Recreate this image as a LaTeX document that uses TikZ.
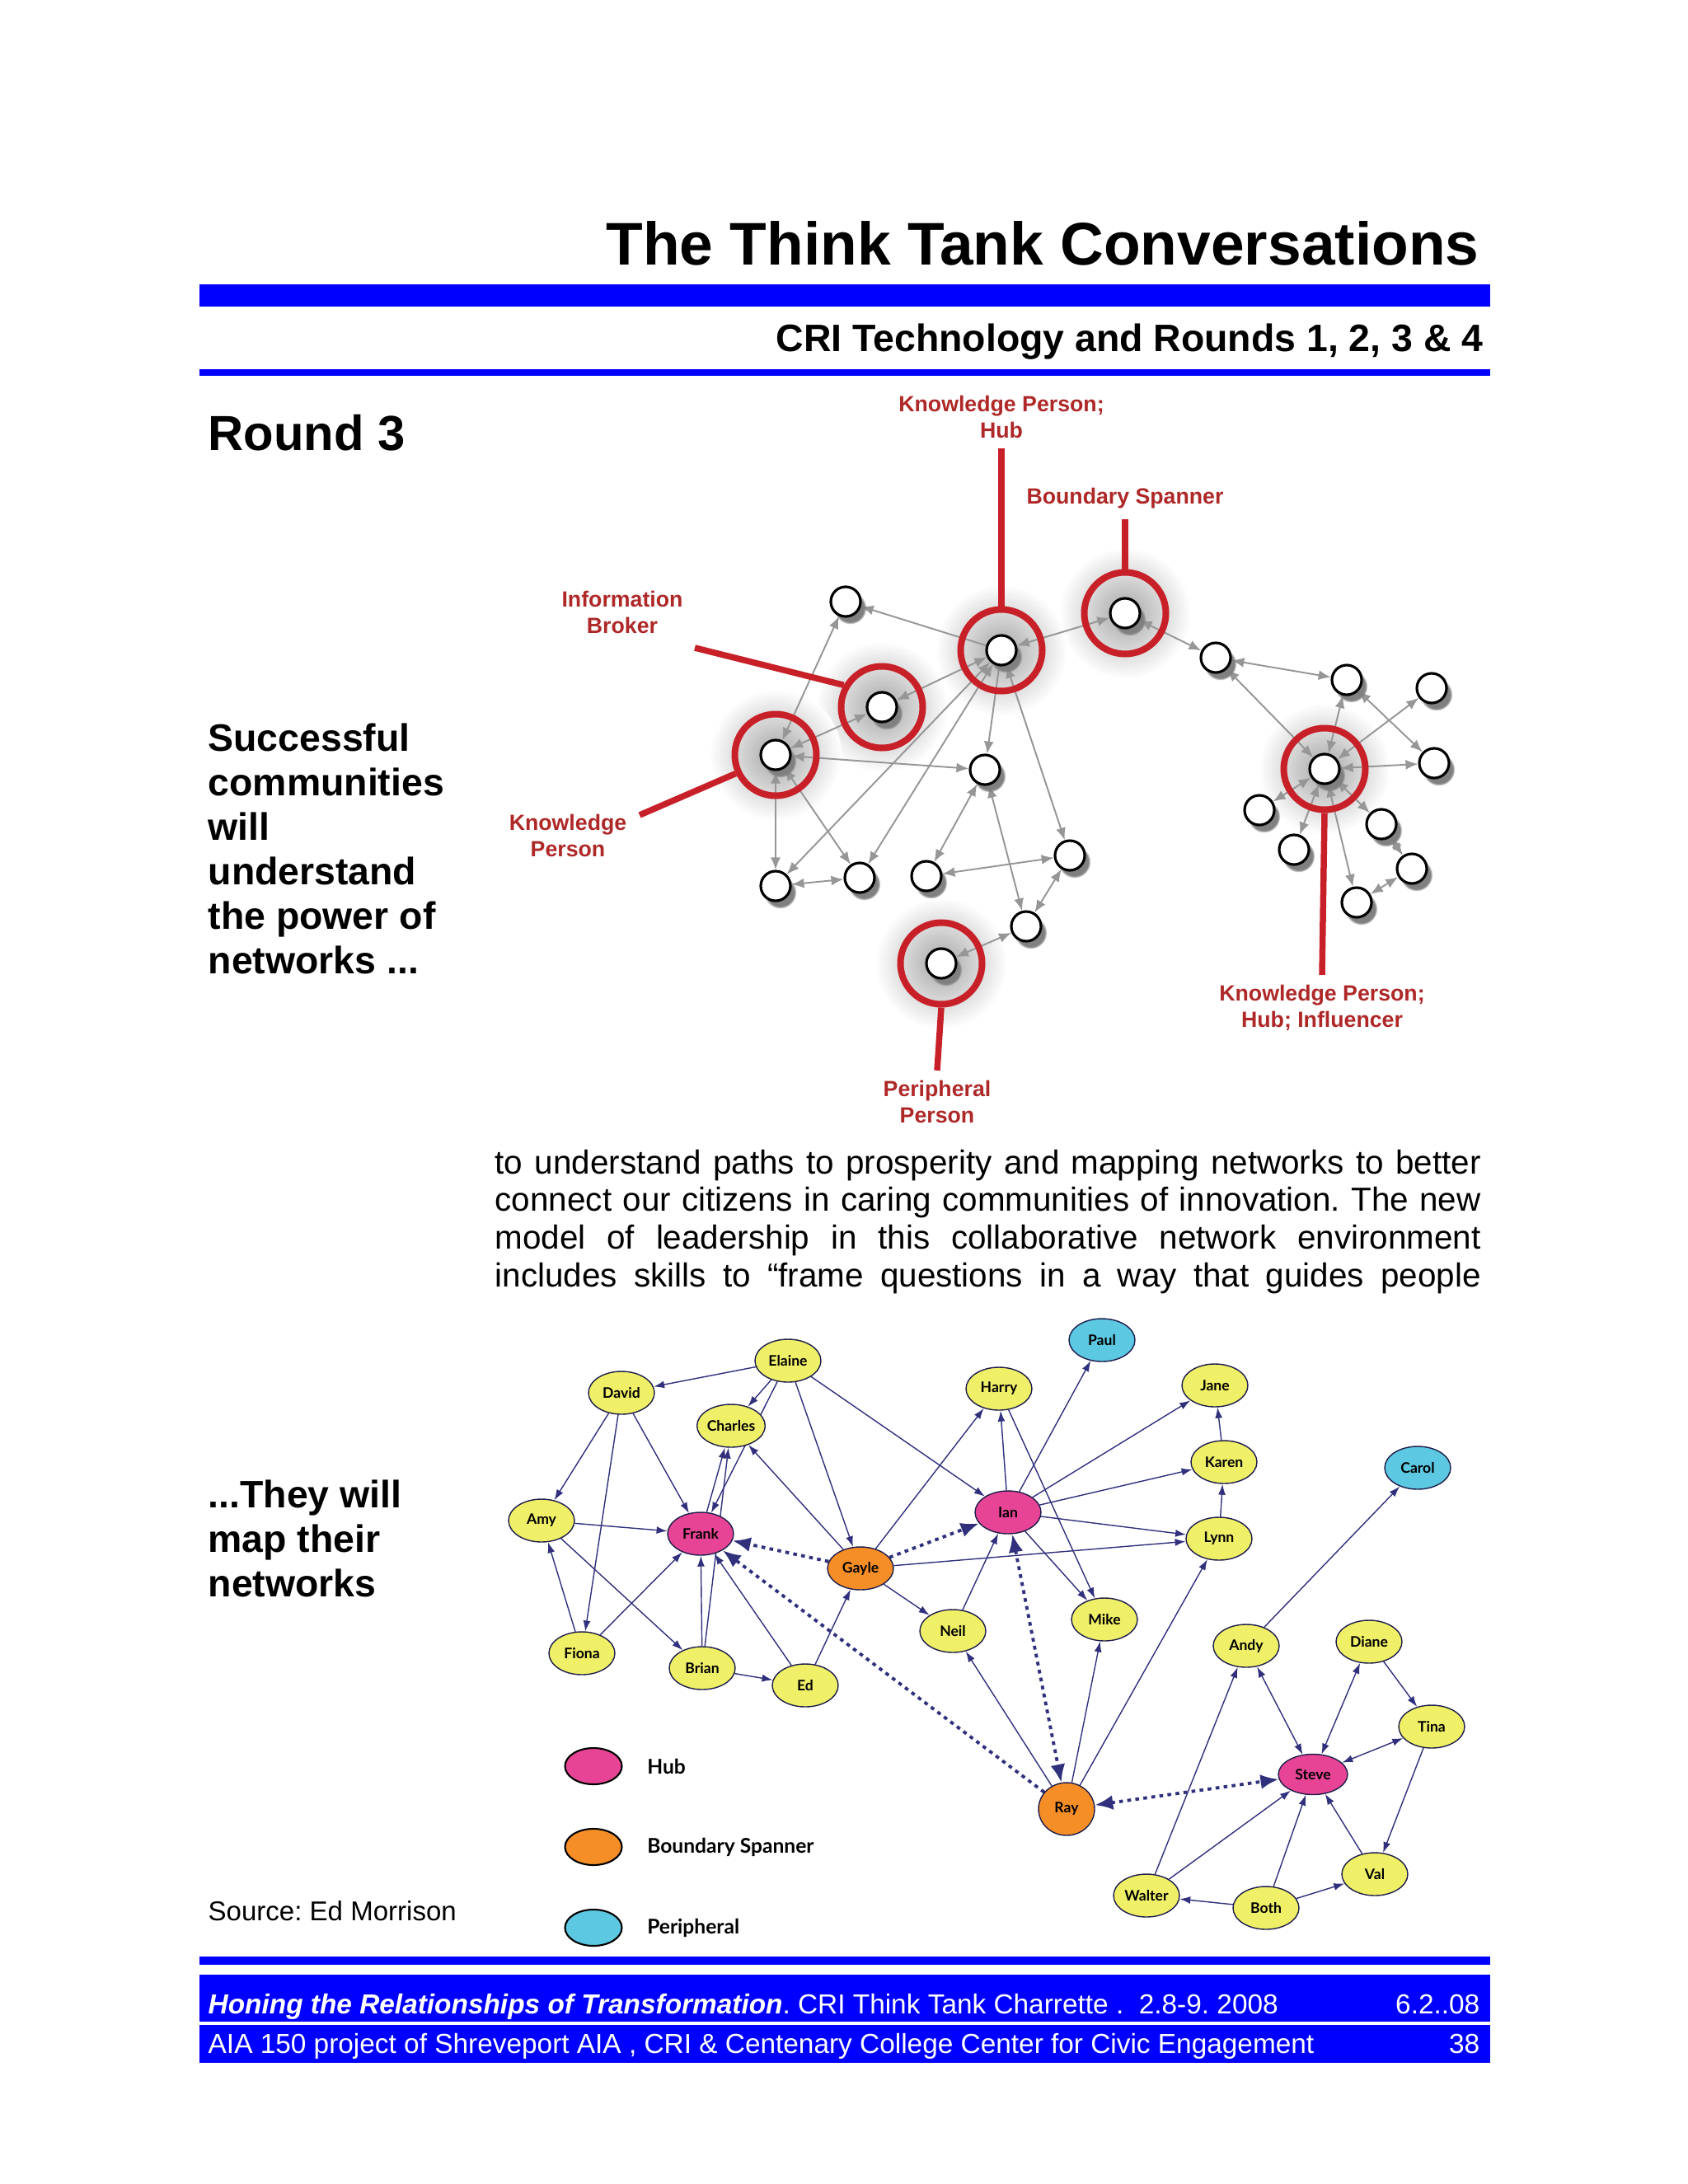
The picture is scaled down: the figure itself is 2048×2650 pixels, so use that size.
\documentclass[tikz,border=0pt]{standalone}
\usepackage{fontspec}
\setmainfont{Liberation Sans}
\newfontfamily\namefont{Lato}
\usetikzlibrary{arrows.meta,shapes.geometric,shadows,positioning}
\frenchspacing

\definecolor{barblue}{RGB}{0,0,255}
\definecolor{ringred}{RGB}{200,32,40}
\definecolor{labelred}{RGB}{175,40,40}
\definecolor{linkgray}{RGB}{150,150,150}
\definecolor{tieblue}{RGB}{48,48,125}
\definecolor{hubpink}{RGB}{232,68,150}
\definecolor{spanorange}{RGB}{246,142,40}
\definecolor{periblue}{RGB}{92,200,226}
\definecolor{memberyellow}{RGB}{240,240,104}

\pgfdeclarelayer{back}
\pgfdeclarelayer{links}
\pgfsetlayers{back,links,main}

\tikzset{
  pnode/.style={circle, draw=black, line width=0.9pt, fill=white, minimum size=3.6mm,
    inner sep=0pt, circular drop shadow={shadow xshift=0.5mm, shadow yshift=-0.7mm}},
  ring/.style={circle, draw=ringred, line width=0.8mm, minimum size=9.9mm, inner sep=0pt},
  pointer/.style={draw=ringred, line width=0.75mm},
  rolelabel/.style={text=labelred, font=\bfseries\fontsize{7.6}{9.1}\selectfont, align=center},
  link/.style={draw=linkgray, line width=0.55pt, >={Latex[length=1.5mm,width=1.2mm]}},
  member/.style={ellipse, draw=tieblue!60!black, line width=0.4pt, fill=memberyellow,
    minimum width=8mm, minimum height=5.2mm, inner sep=0pt,
    font=\namefont\bfseries\fontsize{5}{6}\selectfont},
  hubnode/.style={member, fill=hubpink},
  spannode/.style={member, fill=spanorange},
  perinode/.style={member, fill=periblue},
  keynode/.style={member, draw=black, line width=0.6pt, minimum width=6.9mm, minimum height=4.4mm},
  keytext/.style={inner sep=0pt, right=2.9mm of #1, font=\namefont\bfseries\fontsize{7}{8}\selectfont},
  tie/.style={draw=tieblue, line width=0.4pt, ->, >={Latex[length=1.3mm,width=0.9mm]}},
  strongtie/.style={draw=tieblue, line width=1.1pt, dash pattern=on 1.3pt off 1.5pt,
    >={Latex[length=2.2mm,width=1.8mm]}},
}

\begin{document}
\begin{tikzpicture}[x=0.1mm, y=-0.1mm]
    \useasboundingbox (0,0) rectangle (2048,2650);

    % page head
    \node[anchor=base east, inner sep=0pt, font=\bfseries\fontsize{20.8}{25}\selectfont] (title) at (1795,321) {The Think Tank Conversations};
    \fill[barblue] (242,345) rectangle (1808,372);
    \node[anchor=base east, inner sep=0pt, font=\bfseries\fontsize{13.2}{16}\selectfont] (subtitle) at (1800,426) {CRI Technology and Rounds 1, 2, 3 \& 4};
    \fill[barblue] (242,448) rectangle (1808,456);
    \node[anchor=base west, inner sep=0pt, font=\bfseries\fontsize{17}{20}\selectfont] (round) at (252,546) {Round 3};

    % side notes
    \node[anchor=north west, inner sep=0pt, align=left, font=\bfseries\fontsize{13.2}{15.4}\selectfont] (claim) at (252,877)
        {Successful\\communities\\will\\understand\\the power of\\networks ...};
    \node[anchor=north west, inner sep=0pt, align=left, font=\bfseries\fontsize{13.2}{15.4}\selectfont] (mapnote) at (252,1795)
        {...They will\\map their\\networks};
    \node[anchor=base west, inner sep=0pt, font=\fontsize{9.4}{11}\selectfont] (source) at (252,2330) {Source: Ed Morrison};

    % upper network: people
    \node[ring] (rhub) at (1215,789) {};
    \node[ring] (rspan) at (1365,744) {};
    \node[ring] (rbroker) at (1070,858) {};
    \node[ring] (rknow) at (941,916) {};
    \node[ring] (rperi) at (1142,1169) {};
    \node[ring] (rinfl) at (1607,933) {};

    \node[pnode] (ntop) at (1026,730) {};
    \node[pnode] (nhub) at (1215,789) {};
    \node[pnode] (nspan) at (1365,744) {};
    \node[pnode] (nbroker) at (1070,858) {};
    \node[pnode] (nknow) at (941,916) {};
    \node[pnode] (nmid) at (1195,934) {};
    \node[pnode] (nla) at (941,1075) {};
    \node[pnode] (nlb) at (1043,1065) {};
    \node[pnode] (nlc) at (1124,1063) {};
    \node[pnode] (nld) at (1298,1038) {};
    \node[pnode] (nle) at (1245,1124) {};
    \node[pnode] (nperi) at (1142,1169) {};
    \node[pnode] (nr1) at (1475,798) {};
    \node[pnode] (nr2) at (1634,825) {};
    \node[pnode] (nr3) at (1737,835) {};
    \node[pnode] (ninfl) at (1607,933) {};
    \node[pnode] (nr4) at (1740,926) {};
    \node[pnode] (nr5) at (1528,983) {};
    \node[pnode] (nr6) at (1570,1031) {};
    \node[pnode] (nr7) at (1676,1000) {};
    \node[pnode] (nr8) at (1713,1054) {};
    \node[pnode] (nr9) at (1646,1095) {};

    % roles
    \node[rolelabel] (hublabel) at (1215,506) {Knowledge Person;\\Hub};
    \draw[pointer] (hublabel.south) -- (rhub);
    \node[rolelabel] (spanlabel) at (1365,605) {Boundary Spanner};
    \draw[pointer] (spanlabel.south) -- (rspan);
    \node[rolelabel] (brokerlabel) at (755,743) {Information\\Broker};
    \coordinate (brokertip) at (843,786);
    \draw[pointer] (brokertip) -- (rbroker.150);
    \node[rolelabel] (knowlabel) at (689,1014) {Knowledge\\Person};
    \coordinate (knowtip) at (776,989);
    \draw[pointer] (knowtip) -- (rknow.205);
    \node[rolelabel] (perilabel) at (1137,1337) {Peripheral\\Person};
    \draw[pointer] (perilabel.north) -- (rperi.south);
    \node[rolelabel] (infllabel) at (1604,1223) {Knowledge Person;\\Hub; Influencer};
    \draw[pointer] (infllabel.north) -- (rinfl.south);

    \begin{pgfonlayer}{back}
        \shade[inner color=black!35, outer color=white] (nhub) circle (8mm);
        \shade[inner color=black!35, outer color=white] (nspan) circle (8mm);
        \shade[inner color=black!35, outer color=white] (nbroker) circle (8mm);
        \shade[inner color=black!35, outer color=white] (nknow) circle (8mm);
        \shade[inner color=black!35, outer color=white] (nperi) circle (8mm);
        \shade[inner color=black!35, outer color=white] (ninfl) circle (8mm);
    \end{pgfonlayer}

    \begin{pgfonlayer}{links}
        % left cluster
        \draw[link,->] (nhub) -- (ntop);
        \draw[link,<->] (ntop) -- (nknow);
        \draw[link,<->] (nspan) -- (nhub);
        \draw[link,<->] (nhub) -- (nbroker);
        \draw[link,<->] (nknow) -- (nbroker);
        \draw[link,<->] (nknow) -- (nmid);
        \draw[link,->] (nhub) -- (nmid);
        \draw[link,<->] (nhub) -- (nld);
        \draw[link,<->] (nhub) -- (nla);
        \draw[link,<->] (nhub) -- (nlb);
        \draw[link,<->] (nmid) -- (nlc);
        \draw[link,<->] (nmid) -- (nle);
        \draw[link,<->] (nlc) -- (nld);
        \draw[link,<->] (nld) -- (nle);
        \draw[link,<->] (nle) -- (nperi);
        \draw[link,<->] (nknow) -- (nla);
        \draw[link,<->] (nknow) -- (nlb);
        \draw[link,<->] (nla) -- (nlb);
        % right cluster
        \draw[link,<->] (nspan) -- (nr1);
        \draw[link,<->] (nr1) -- (nr2);
        \draw[link,<->] (nr1) -- (ninfl);
        \draw[link,<->] (ninfl) -- (nr2);
        \draw[link,<->] (nr2) -- (nr4);
        \draw[link,<->] (ninfl) -- (nr3);
        \draw[link,<->] (ninfl) -- (nr4);
        \draw[link,<->] (ninfl) -- (nr5);
        \draw[link,<->] (ninfl) -- (nr6);
        \draw[link,<->] (ninfl) -- (nr7);
        \draw[link,<->] (ninfl) -- (nr9);
        \draw[link,<->] (nr7) -- (nr8);
        \draw[link,<->] (nr8) -- (nr9);
    \end{pgfonlayer}

    % body text
    \node[anchor=north west, inner sep=0pt, font=\fontsize{11.5}{13}\selectfont] (body) at (600,1394)
        {\parbox[t]{119.6mm}{\parfillskip=0pt \hyphenpenalty=10000
        to understand paths to prosperity and mapping networks to better\linebreak
        connect our citizens in caring communities of innovation. The new\linebreak
        model of leadership in this collaborative network environment\linebreak
        includes skills to “frame questions in a way that guides people}};

    % lower network: people
    \node[perinode] (paul) at (1337,1626) {Paul};
    \node[member] (elaine) at (956,1651) {Elaine};
    \node[member] (david) at (754,1690) {David};
    \node[member] (harry) at (1212,1685) {Harry};
    \node[member] (jane) at (1474,1681) {Jane};
    \node[member] (charles) at (887,1730) {Charles};
    \node[member] (karen) at (1485,1774) {Karen};
    \node[perinode] (carol) at (1720,1781) {Carol};
    \node[member] (amy) at (657,1845) {Amy};
    \node[hubnode] (ian) at (1223,1835) {Ian};
    \node[hubnode] (frank) at (850,1861) {Frank};
    \node[member] (lynn) at (1479,1867) {Lynn};
    \node[spannode] (gayle) at (1044,1903) {Gayle};
    \node[member] (neil) at (1156,1979) {Neil};
    \node[member] (mike) at (1340,1965) {Mike};
    \node[member] (andy) at (1512,1997) {Andy};
    \node[member] (diane) at (1661,1992) {Diane};
    \node[member] (fiona) at (706,2006) {Fiona};
    \node[member] (brian) at (852,2024) {Brian};
    \node[member] (ed) at (977,2045) {Ed};
    \node[member] (tina) at (1737,2095) {Tina};
    \node[hubnode, minimum width=8.4mm, minimum height=4.9mm] (steve) at (1593,2153) {Steve};
    \node[spannode, minimum width=6.8mm, minimum height=6.4mm] (ray) at (1294,2195) {Ray};
    \node[member] (val) at (1668,2274) {Val};
    \node[member] (walter) at (1391,2300) {Walter};
    \node[member] (both) at (1536,2315) {Both};

    \begin{pgfonlayer}{links}
        % ties
        \draw[tie] (elaine) -- (david);
        \draw[tie] (elaine) -- (charles);
        \draw[tie] (elaine) -- (frank);
        \draw[tie] (elaine) -- (gayle);
        \draw[tie] (elaine) -- (ian);
        \draw[tie] (david) -- (amy);
        \draw[tie] (david) -- (fiona);
        \draw[tie] (david) -- (frank);
        \draw[tie] (frank) -- (charles);
        \draw[tie] (brian) -- (charles);
        \draw[tie] (brian) -- (frank);
        \draw[tie] (gayle) -- (charles);
        \draw[tie] (amy) -- (frank);
        \draw[tie] (amy) -- (brian);
        \draw[tie] (fiona) -- (amy);
        \draw[tie] (fiona) -- (frank);
        \draw[tie] (brian) -- (ed);
        \draw[tie] (ed) -- (frank);
        \draw[tie] (ed) -- (gayle);
        \draw[tie] (gayle) -- (neil);
        \draw[tie] (gayle) -- (lynn);
        \draw[tie] (gayle) -- (harry);
        \draw[tie] (neil) -- (ian);
        \draw[tie] (ray) -- (neil);
        \draw[tie] (ray) -- (mike);
        \draw[tie] (ray) -- (lynn);
        \draw[tie] (ian) -- (harry);
        \draw[tie] (ian) -- (paul);
        \draw[tie] (ian) -- (jane);
        \draw[tie] (ian) -- (karen);
        \draw[tie] (ian) -- (mike);
        \draw[tie] (ian) -- (lynn);
        \draw[tie] (harry) -- (mike);
        \draw[tie] (karen) -- (jane);
        \draw[tie] (lynn) -- (karen);
        \draw[tie] (andy) -- (carol);
        \draw[tie] (walter) -- (andy);
        \draw[tie,<->] (andy) -- (steve);
        \draw[tie,<->] (diane) -- (steve);
        \draw[tie] (diane) -- (tina);
        \draw[tie,<->] (tina) -- (steve);
        \draw[tie] (tina) -- (val);
        \draw[tie] (val) -- (steve);
        \draw[tie] (walter) -- (steve);
        \draw[tie] (both) -- (steve);
        \draw[tie] (both) -- (walter);
        \draw[tie] (both) -- (val);
        % hub to spanner ties
        \draw[strongtie,->] (gayle) -- (frank);
        \draw[strongtie,->] (gayle) -- (ian);
        \draw[strongtie,->] (ray) -- (frank);
        \draw[strongtie,<->] (ian) -- (ray);
        \draw[strongtie,<->] (ray) -- (steve);
    \end{pgfonlayer}

    % key
    \node[keynode, fill=hubpink] (hubkey) at (720,2143) {};
    \node[keytext=hubkey] (hubkeytext) {Hub};
    \node[keynode, fill=spanorange] (spankey) at (720,2241) {};
    \node[keytext=spankey] (spankeytext) {Boundary Spanner};
    \node[keynode, fill=periblue] (perikey) at (720,2339) {};
    \node[keytext=perikey] (perikeytext) {Peripheral};

    % page foot
    \fill[barblue] (242,2374) rectangle (1808,2384);
    \fill[barblue] (242,2396) rectangle (1808,2453);
    \fill[barblue] (242,2457) rectangle (1808,2503);
    \node[anchor=base west, inner sep=0pt, text=white, font=\fontsize{9.5}{11}\selectfont] (event) at (252,2443)
        {\textbf{\textit{Honing the Relationships of Transformation}}. CRI Think Tank Charrette .\ \ 2.8-9. 2008};
    \node[anchor=base east, inner sep=0pt, text=white, font=\fontsize{9.5}{11}\selectfont] (date) at (1796,2443) {6.2..08};
    \node[anchor=base west, inner sep=0pt, text=white, font=\fontsize{9.5}{11}\selectfont] (project) at (252,2491)
        {AIA 150 project of Shreveport AIA , CRI \& Centenary College Center for Civic Engagement};
    \node[anchor=base east, inner sep=0pt, text=white, font=\fontsize{9.5}{11}\selectfont] (page) at (1796,2491) {38};
\end{tikzpicture}
\end{document}
